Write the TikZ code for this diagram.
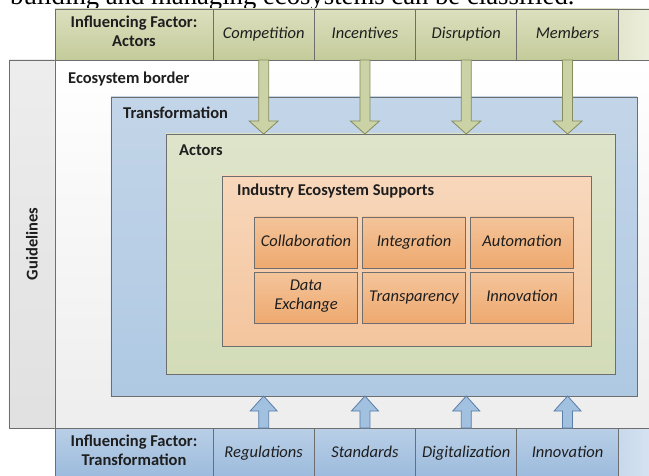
\documentclass[tikz,border=0pt]{standalone}
\usepackage{fontspec}
\setmainfont{Carlito}
\newfontfamily\serifhead{Liberation Serif}
\usetikzlibrary{positioning,calc}

\definecolor{linegray}{HTML}{6E6E6E}
\definecolor{textdark}{HTML}{1E1E1E}
\definecolor{olivetop}{HTML}{DCE0BF}
\definecolor{olivebot}{HTML}{C4CB9A}
\definecolor{oliveline}{HTML}{858D5C}
\definecolor{olivearrow}{HTML}{CBD2A5}
\definecolor{bluetop}{HTML}{B9CFE7}
\definecolor{bluebot}{HTML}{9BBADC}
\definecolor{blueline}{HTML}{5A7EA5}
\definecolor{bluearrow}{HTML}{A2C0E0}
\definecolor{transtop}{HTML}{C3D5E8}
\definecolor{transbot}{HTML}{AFC9E3}
\definecolor{actorstop}{HTML}{DEE4CA}
\definecolor{actorsbot}{HTML}{D3DCB8}
\definecolor{peachtop}{HTML}{F8D7BB}
\definecolor{peachbot}{HTML}{F3C59E}
\definecolor{orangetop}{HTML}{F4C49A}
\definecolor{orangebot}{HTML}{EEA96F}

\newcommand\diagsize{\fontsize{16.5bp}{19bp}\selectfont}

\tikzset{
  box/.style={draw=linegray, line width=0.9bp, inner sep=0pt, outer sep=0pt},
  title/.style={inner sep=0pt, font=\diagsize\bfseries},
  topcell/.style={box, top color=olivetop, bottom color=olivebot, minimum height=51bp, minimum width=101.3bp, font=\diagsize\itshape, align=center, execute at begin node=\strut},
  botcell/.style={box, top color=bluetop, bottom color=bluebot, minimum height=51bp, minimum width=101.3bp, font=\diagsize\itshape, align=center, execute at begin node=\strut},
  supportcell/.style={box, top color=orangetop, bottom color=orangebot, minimum width=103bp, minimum height=51bp, font=\diagsize\itshape, align=center, execute at begin node=\strut},
  toparrow/.style={draw=oliveline, fill=olivearrow, line width=0.8bp, line join=miter,
    to path={let \p1=(\tikztostart), \p2=(\tikztotarget) in
      (\x1-5bp,\y1) -- (\x1-5bp,\y2+13bp) -- (\x1-14.5bp,\y2+13bp) -- (\x1,\y2)
      -- (\x1+14.5bp,\y2+13bp) -- (\x1+5bp,\y2+13bp) -- (\x1+5bp,\y1) -- cycle}},
  botarrow/.style={draw=blueline, fill=bluearrow, line width=0.8bp, line join=miter,
    to path={let \p1=(\tikztostart), \p2=(\tikztotarget) in
      (\x1-5bp,\y1) -- (\x1-5bp,\y2-15bp) -- (\x1-13.5bp,\y2-15bp) -- (\x1,\y2)
      -- (\x1+13.5bp,\y2-15bp) -- (\x1+5bp,\y2-15bp) -- (\x1+5bp,\y1) -- cycle}}
}

\begin{document}
\begin{tikzpicture}[x=1bp, y=-1bp, text=textdark]
\clip (0,0) rectangle (649,476);

\node[anchor=base west, inner sep=0pt, text=black, font=\serifhead\fontsize{26.7bp}{30bp}\selectfont] (intro) at (10,5) {building and managing ecosystems can be classified.};

% guidelines and ecosystem border
\node[box, top color=black!7, bottom color=black!12, minimum width=46bp, minimum height=368bp] (guide) at (32,244) {};
\node[title, rotate=90] (guidelabel) at (guide.center) {Guidelines};
\node[box, top color=white, bottom color=black!7, minimum width=605bp, minimum height=368bp] (eco) at (357.5,244) {};
\node[title, anchor=west] (ecolabel) at ($(eco.north west)+(13,19)$) {Ecosystem border};

% influencing factors: actors
\node[topcell, minimum width=158bp, font=\diagsize\bfseries] (topfactor) at (134,34.5) {Influencing Factor:\\Actors};
\node[topcell, right=0pt of topfactor] (comp) {Competition};
\node[topcell, right=0pt of comp] (incent) {Incentives};
\node[topcell, right=0pt of incent] (disrupt) {Disruption};
\node[topcell, right=0pt of disrupt] (members) {Members};
\node[topcell, right=0pt of members, minimum width=60bp, left color=olivetop!80!white, right color=olivetop!30!white] (topend) {};

% influencing factors: transformation
\node[botcell, minimum width=158bp, font=\diagsize\bfseries] (botfactor) at (134,453.5) {Influencing Factor:\\Transformation};
\node[botcell, right=0pt of botfactor] (regul) {Regulations};
\node[botcell, right=0pt of regul] (stand) {Standards};
\node[botcell, right=0pt of stand] (digital) {Digitalization};
\node[botcell, right=0pt of digital] (innofac) {Innovation};
\node[botcell, right=0pt of innofac, minimum width=60bp, left color=bluetop!80!white, right color=bluetop!40!white] (botend) {};

% nested boxes
\node[box, top color=transtop, bottom color=transbot, minimum width=526bp, minimum height=299bp] (trans) at (374,246.5) {};
\node[title, anchor=west] (translabel) at ($(trans.north west)+(12,16)$) {Transformation};
\node[box, top color=actorstop, bottom color=actorsbot, minimum width=449bp, minimum height=240bp] (actors) at (390.5,254) {};
\node[title, anchor=west] (actorslabel) at ($(actors.north west)+(13,16)$) {Actors};
\node[box, top color=peachtop, bottom color=peachbot, minimum width=369bp, minimum height=170bp] (industry) at (406.5,261) {};
\node[title, anchor=west] (industrylabel) at ($(industry.north west)+(15,15)$) {Industry Ecosystem Supports};

\node[supportcell] (collab) at (306,242.5) {Collaboration};
\node[supportcell, right=5bp of collab] (integ) {Integration};
\node[supportcell, right=5bp of integ] (autom) {Automation};
\node[supportcell, below=4.5bp of collab] (dataex) {Data\\Exchange};
\node[supportcell, right=5bp of dataex] (transp) {Transparency};
\node[supportcell, right=5bp of transp] (innov) {Innovation};

% arrows
\draw[toparrow] (comp.south) to (comp.south |- actors.north);
\draw[toparrow] (incent.south) to (incent.south |- actors.north);
\draw[toparrow] (disrupt.south) to (disrupt.south |- actors.north);
\draw[toparrow] (members.south) to (members.south |- actors.north);

\draw[botarrow] (regul.north) to (regul.north |- trans.south);
\draw[botarrow] (stand.north) to (stand.north |- trans.south);
\draw[botarrow] (digital.north) to (digital.north |- trans.south);
\draw[botarrow] (innofac.north) to (innofac.north |- trans.south);
\end{tikzpicture}
\end{document}
